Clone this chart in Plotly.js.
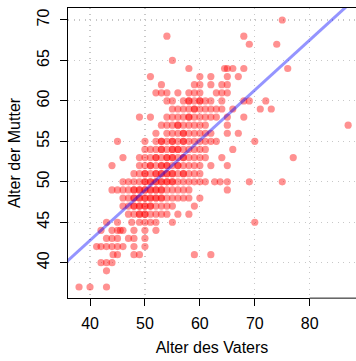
<!DOCTYPE html>
<html>
<head>
<meta charset="utf-8">
<script src="https://cdn.plot.ly/plotly-3.0.1.min.js"></script>
<style>html,body{margin:0;padding:0;background:#fff;}#chart{width:356px;height:361px;}</style>
</head>
<body>
<div id="chart"></div>
<script>
// Mother's age rows and the fathers' ages observed in each row
const mutterRows = [70, 68, 67, 65, 64, 63, 62, 61, 60, 59, 58, 57, 56, 55, 54, 53, 52, 51, 50, 49, 48, 47, 46, 45, 44, 43, 42, 41, 40, 39, 37];
const vaterByRow = [
  [75],
  [54, 68],
  [69, 74],
  [55],
  [58, 64.5, 65, 66, 68, 76],
  [51, 60, 62, 65, 67],
  [53, 59, 60, 62, 64, 65],
  [52, 53, 54, 56, 58, 59, 60, 63, 64, 65],
  [54, 55, 57, 58, 58, 59, 60, 60, 61, 62, 64, 68, 69, 72],
  [55, 56, 57, 58, 59, 59, 60, 61, 62, 63, 64, 66, 71, 73],
  [49, 51, 54, 55, 56, 57, 58, 58, 59, 60, 61, 62, 63, 65, 68],
  [53, 54, 55, 56, 56, 57, 58, 59, 60, 61, 65, 87],
  [52, 54, 55, 56, 57, 57, 58, 59, 60, 61, 62, 65, 67],
  [45, 50, 52, 53, 53, 54, 55, 55, 56, 57, 57, 58, 59, 60, 61, 62, 63, 70],
  [50, 51, 52, 53, 53, 54, 55, 55, 56, 56, 57, 58, 59, 60, 61, 66],
  [46, 49, 50, 51, 52, 52, 53, 54, 54, 55, 55, 56, 57, 57, 58, 59, 60, 61, 64, 77],
  [44, 49, 50, 51, 51, 52, 53, 53, 54, 54, 55, 56, 56, 57, 58, 59, 60, 62, 65],
  [48, 49, 50, 50, 51, 52, 52, 53, 53, 54, 54, 55, 55, 56, 57, 57, 58, 59, 60],
  [46, 47, 48, 49, 50, 50, 51, 51, 52, 52, 53, 53, 54, 54, 55, 55, 56, 57, 58, 59, 60, 61, 62.7, 63.7, 65, 69, 75],
  [44, 45, 46, 47, 48, 48, 49, 49, 50, 50, 51, 51, 52, 52, 53, 53, 54, 55, 56, 57, 58, 65],
  [46, 47, 48, 48, 49, 49, 50, 50, 51, 51, 52, 52, 53, 53, 54, 55, 56, 57, 58, 60],
  [46, 47, 48, 48, 49, 49, 50, 50, 51, 51, 52, 53, 54, 55, 59],
  [47, 48, 49, 49, 50, 50, 51, 52, 53, 54, 56, 58],
  [43, 45, 47.6, 49, 50, 51, 52, 55, 70],
  [42, 44, 45, 45.5, 46, 48, 50, 52],
  [43, 44, 45, 47, 48, 50],
  [41.2, 42, 43, 44, 45, 46, 48, 50],
  [44.2, 45, 48, 49, 59, 62],
  [42, 43, 44],
  [43],
  [38, 40, 43]
];
// regression line: intercept, slope
const lineCoef = [18.0, 0.619];
const xTicks = [40, 50, 60, 70, 80];
const yTicks = [40, 45, 50, 55, 60, 65, 70];
const xRange = [35.99, 88.43];
const yRange = [35.64, 71.48];

const vater = [], mutter = [];
mutterRows.forEach((m, i) => vaterByRow[i].forEach(v => { vater.push(v); mutter.push(m); }));

const lx = [xRange[0] - 5, xRange[1] + 5];
const ly = lx.map(x => lineCoef[0] + lineCoef[1] * x);

const font = {family: '"Liberation Sans", Arial, sans-serif', size: 16, color: '#000'};

Plotly.newPlot('chart', [
  {x: vater, y: mutter, type: 'scatter', mode: 'markers',
   marker: {color: 'rgba(255,0,0,0.43)', size: 7.2, line: {width: 0}}, hoverinfo: 'skip'},
  {x: lx, y: ly, type: 'scatter', mode: 'lines',
   line: {color: 'rgba(0,0,255,0.42)', width: 3}, hoverinfo: 'skip'}
], {
  width: 356, height: 361,
  margin: {l: 68, r: 0, t: 8, b: 63},
  showlegend: false,
  paper_bgcolor: '#fff', plot_bgcolor: '#fff',
  font: font,
  xaxis: {range: xRange, tickvals: xTicks, ticks: 'outside', ticklen: 7, tickcolor: '#000', tickwidth: 1,
    showline: true, linecolor: '#000', linewidth: 1.2, mirror: true, zeroline: false,
    showgrid: true, gridcolor: '#c8c8c8', gridwidth: 1.2, griddash: '1.4px,4.1px',
    tickfont: font, ticklabelstandoff: 4,
    title: {text: 'Alter des Vaters', font: font, standoff: 10}},
  yaxis: {range: yRange, tickvals: yTicks, ticks: 'outside', ticklen: 7, tickcolor: '#000', tickwidth: 1,
    showline: true, linecolor: '#000', linewidth: 1.2, zeroline: false, tickangle: -90,
    showgrid: true, gridcolor: '#c8c8c8', gridwidth: 1.2, griddash: '1.4px,4.1px',
    tickfont: font, ticklabelstandoff: 4,
    title: {text: 'Alter der Mutter', font: font, standoff: 10}},
  shapes: [{type: 'line', xref: 'x', yref: 'paper', x0: 80, x1: xRange[1], y0: 0, y1: 0,
    line: {color: '#8a8a8a', width: 1.4}}]
}, {displayModeBar: false, staticPlot: true});
</script>
</body>
</html>
